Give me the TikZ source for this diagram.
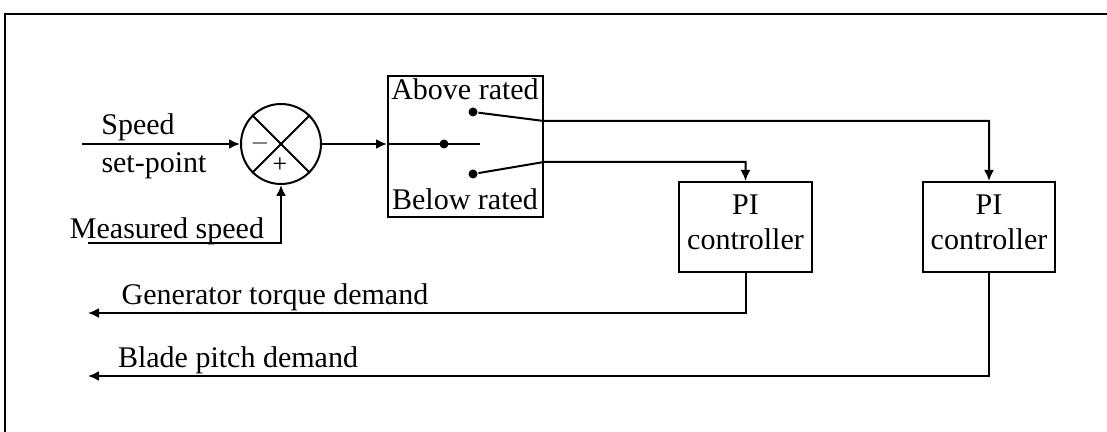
\documentclass[tikz,border=0pt]{standalone}
\usepackage{fontspec}
\setmainfont{Liberation Serif}
\usetikzlibrary{arrows.meta}
\begin{document}
\begin{tikzpicture}[x=0.5pt,y=-0.5pt,
  line width=1pt,
  arr/.style={-{Latex[length=5.5pt,width=5pt]}},
  blk/.style={draw,rectangle,inner sep=0pt},
  lbl/.style={font=\fontsize{15}{17}\selectfont,inner sep=0pt,anchor=base},
  dotc/.style={circle,fill,inner sep=0pt,minimum size=4.5pt}]
\useasboundingbox (0,0) rectangle (1107,432);
% frame
\draw[line width=1.4pt] (5,440) -- (5,14) -- (1115,14);
% summing junction
\node[draw,circle,minimum size=40pt,inner sep=0pt] (sum) at (281,144) {};
\draw (sum.north west) -- (sum.south east) (sum.north east) -- (sum.south west);
\node[lbl,font=\fontsize{13}{15}\selectfont] (minus) at (260,150) {$-$};
\node[lbl,font=\fontsize{13}{15}\selectfont] (plus) at (280,173) {+};
% switch box
\node[blk,minimum width=77.5pt,minimum height=70.5pt] (sw) at (465.5,146.5) {};
\node[lbl] (above) at (465,100) {Above rated};
\node[lbl] (below) at (465,210) {Below rated};
% PI controllers
\node[blk,minimum width=66.5pt,minimum height=45pt] (pi1) at (745.5,227) {};
\node[lbl] (pi1a) at (745.5,215) {PI};
\node[lbl] (pi1b) at (745.5,250) {controller};
\node[blk,minimum width=66pt,minimum height=45pt] (pi2) at (989,227) {};
\node[lbl] (pi2a) at (989,215) {PI};
\node[lbl] (pi2b) at (989,250) {controller};
% input labels
\node[lbl] (spd) at (138,135) {Speed};
\node[lbl] (setp) at (154,173) {set-point};
\node[lbl] (meas) at (167,239) {Measured speed};
% coordinates
\coordinate (spin) at (82,144);
\coordinate (msin) at (88,243);
\coordinate (swin) at (sw.west |- sum.center);
\coordinate (pole) at (480,144);
\node[dotc] (d0) at (444,144) {};
\node[dotc] (dup) at (473,112) {};
\node[dotc] (dlo) at (473,174) {};
\coordinate (oup) at (sw.east |- 0,121);
\coordinate (olo) at (sw.east |- 0,162);
\coordinate (gout) at (88,313);
\coordinate (bout) at (88,376);
% connectors
\draw[arr] (spin) -- (sum.west);
\draw[arr] (msin) -| (sum.south);
\draw[arr] (sum.east) -- (swin);
\draw (swin) -- (pole);
\draw[arr] (dup) -- (oup) -| (pi2.north);
\draw[arr] (dlo) -- (olo) -| (pi1.north);
\draw[arr] (pi1.south) |- (gout);
\draw[arr] (pi2.south) |- (bout);
% output labels
\node[lbl] (gen) at (275,305) {Generator torque demand};
\node[lbl] (blade) at (238,367) {Blade pitch demand};
\end{tikzpicture}
\end{document}
